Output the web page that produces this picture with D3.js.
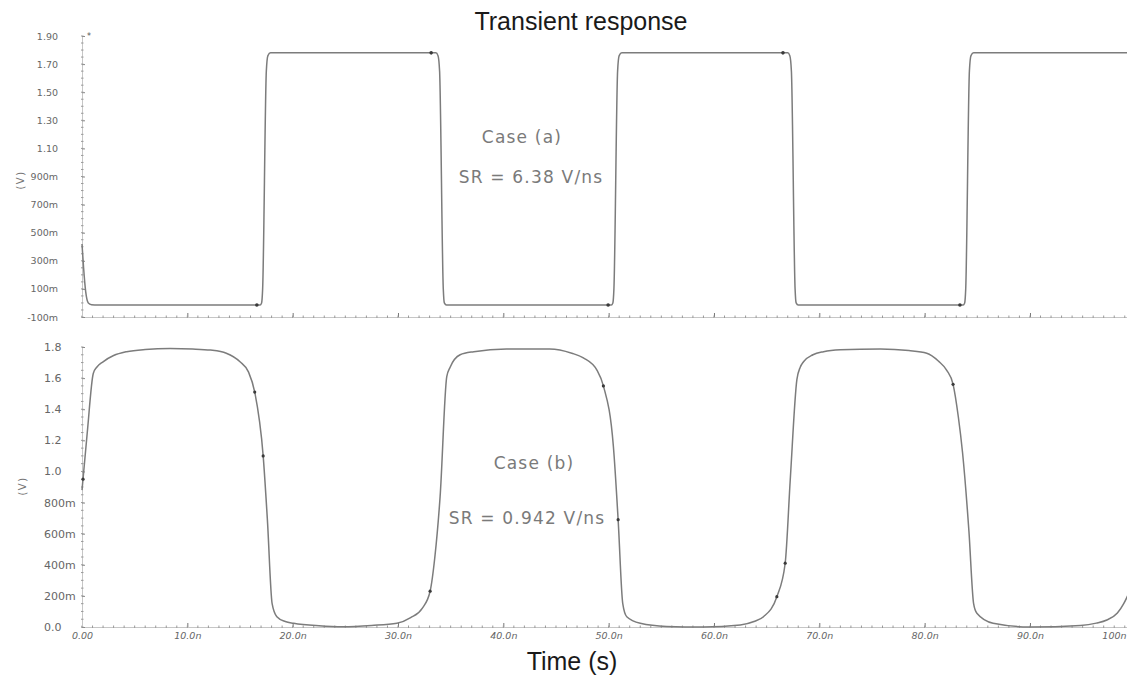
<!DOCTYPE html>
<html><head><meta charset="utf-8">
<script src="https://cdn.jsdelivr.net/npm/d3@7"></script>
<style>
html,body{margin:0;padding:0;background:#fff;}
svg{display:block;}
</style></head>
<body>
<svg id="chart" width="1127" height="677"></svg>
<script>
// ---------- data ----------
const chartTitle = "Transient response";
const xTitle = "Time (s)";
const yTitle = "(V)";

const xTicks = [0, 10, 20, 30, 40, 50, 60, 70, 80, 90, 100];           // ns
const xTickLabels = ["0.00", "10.0n", "20.0n", "30.0n", "40.0n", "50.0n", "60.0n", "70.0n", "80.0n", "90.0n", "100n"];

const topYTicks = [-0.1, 0.1, 0.3, 0.5, 0.7, 0.9, 1.1, 1.3, 1.5, 1.7, 1.9];
const topYTickLabels = ["-100m", "100m", "300m", "500m", "700m", "900m", "1.10", "1.30", "1.50", "1.70", "1.90"];

const botYTicks = [0, 0.2, 0.4, 0.6, 0.8, 1.0, 1.2, 1.4, 1.6, 1.8];
const botYTickLabels = ["0.0", "200m", "400m", "600m", "800m", "1.0", "1.2", "1.4", "1.6", "1.8"];

// Case (a): [time ns, volts]
const caseA = [
  [0, 0.42], [0.15, 0.25], [0.35, 0.08], [0.6, 0.0], [0.9, -0.012], [1.5, -0.015],
  [16.9, -0.015], [17.05, 0.0], [17.15, 0.1], [17.5, 1.65], [17.65, 1.76], [17.9, 1.78],
  [33.6, 1.78], [33.8, 1.76], [33.95, 1.65], [34.3, 0.1], [34.4, 0.0], [34.6, -0.015],
  [50.25, -0.015], [50.4, 0.0], [50.5, 0.1], [50.85, 1.65], [51.0, 1.76], [51.25, 1.78],
  [67.0, 1.78], [67.2, 1.76], [67.35, 1.65], [67.7, 0.1], [67.8, 0.0], [68.0, -0.015],
  [83.65, -0.015], [83.8, 0.0], [83.9, 0.1], [84.25, 1.65], [84.4, 1.76], [84.65, 1.78],
  [100, 1.78]
];

// Case (b): [time ns, volts]
const caseB = [
  [0, 0.88], [0.5, 1.25], [1.07, 1.63], [1.4, 1.67], [2.0, 1.705], [3.0, 1.745], [4.24, 1.77],
  [6.0, 1.784], [8.36, 1.79], [10.5, 1.787], [12.2, 1.78], [13.7, 1.76], [15.0, 1.705],
  [15.8, 1.64], [16.4, 1.51], [17.2, 1.1], [17.6, 0.69], [18.05, 0.15], [18.5, 0.066],
  [19.3, 0.035], [20.1, 0.024], [22.5, 0.008], [24.8, 0.002], [27.5, 0.01], [29.9, 0.024],
  [31.2, 0.06], [32.3, 0.12], [33.05, 0.23], [33.5, 0.45], [34.0, 0.84], [34.63, 1.61],
  [34.95, 1.67], [35.9, 1.75], [37.2, 1.77], [40.3, 1.787], [44.4, 1.787], [46.5, 1.76],
  [47.6, 1.73], [48.9, 1.65], [49.5, 1.55], [50.45, 1.16], [50.9, 0.69], [51.34, 0.15],
  [51.72, 0.066], [53.0, 0.024], [55.5, 0.004], [59.0, 0.0], [62.5, 0.013], [63.8, 0.035],
  [64.7, 0.066], [65.97, 0.195], [66.76, 0.41], [67.24, 0.945], [67.87, 1.59], [68.19, 1.67],
  [68.5, 1.705], [69.4, 1.75], [70.4, 1.77], [72.0, 1.782], [75.8, 1.787], [78.5, 1.777],
  [80.2, 1.76], [81.3, 1.71], [82.1, 1.65], [82.7, 1.56], [83.2, 1.35], [83.6, 1.12],
  [84.2, 0.62], [84.65, 0.15], [84.96, 0.088], [86.5, 0.024], [90.0, 0.0], [94.8, 0.01],
  [96.3, 0.025], [97.3, 0.045], [98.3, 0.09], [98.9, 0.15], [99.5, 0.24], [100, 0.36]
];

// measurement marks
const marksA = [[16.6, -0.015], [33.15, 1.78], [49.95, -0.015], [66.55, 1.78], [83.35, -0.015]];
const marksB = [[0.1, 0.95], [16.4, 1.51], [17.2, 1.1], [33.05, 0.23], [49.5, 1.55], [50.9, 0.69],
                [65.97, 0.195], [66.76, 0.41], [82.7, 1.56]];

const annotA = ["Case (a)", "SR = 6.38 V/ns"];
const annotB = ["Case (b)", "SR = 0.942 V/ns"];

// ---------- drawing ----------
const svg = d3.select("#chart");
const W = 1127, H = 677;
svg.append("rect").attr("width", W).attr("height", H).attr("fill", "#fff");

const x = d3.scaleLinear().domain([0, 100]).range([82, 1135.3]);
const yTop = d3.scaleLinear().domain([-0.1, 1.9]).range([317, 36]);
const yBot = d3.scaleLinear().domain([0, 1.8]).range([627, 347]);

const axisCol = "#c6c6c6", tickCol = "#9a9a9a", labCol = "#666", lineCol = "#7c7c7c";

function drawPanel(y, yTicks, yLabels, yMinorStep, showXLabels, yLabelMode) {
  const [y0, y1] = y.range();
  const g = svg.append("g");
  const xa = d3.axisBottom(x).tickValues(xTicks)
    .tickFormat((d, i) => showXLabels ? xTickLabels[i] : "")
    .tickSizeInner(-4).tickSizeOuter(0).tickPadding(5);
  const gx = g.append("g").attr("transform", `translate(0,${y0})`).call(xa);
  gx.select(".domain").attr("stroke", axisCol).attr("d", `M${x(0)},0.5H${W}`);
  gx.selectAll(".tick line").attr("stroke", "#777");
  gx.selectAll("text").attr("fill", labCol).attr("font-family", "DejaVu Sans")
    .attr("font-size", 9.5).attr("font-style", "italic");
  // keep the last (clipped in the reference) label inside the picture
  gx.selectAll(".tick text").filter(d => x(d) > W - 15)
    .attr("text-anchor", "end").attr("x", d => (W - 1) - x(d));
  g.append("g").selectAll("line").data(d3.range(0, 101, 1)).join("line")
    .attr("x1", d => x(d)).attr("x2", d => x(d))
    .attr("y1", y0 - 1.5).attr("y2", y0 + 1)
    .attr("stroke", tickCol).attr("stroke-width", 1);

  const ya = d3.axisLeft(y).tickValues(yTicks).tickFormat((d, i) => yLabels[i])
    .tickSizeInner(-3).tickSizeOuter(0).tickPadding(yLabelMode === "right" ? 24 : 38);
  const gy = g.append("g").attr("transform", `translate(${x(0)},0)`).call(ya);
  gy.select(".domain").attr("stroke", axisCol);
  gy.selectAll(".tick line").attr("stroke", "#888");
  const t = gy.selectAll("text").attr("fill", labCol).attr("font-family", "DejaVu Sans");
  if (yLabelMode === "right") {
    t.attr("font-size", 9.5).attr("text-anchor", "end");
  } else {
    t.attr("font-size", 11).attr("text-anchor", "start");
  }
  const dom = y.domain();
  g.append("g").selectAll("line").data(d3.range(dom[0], dom[1] + 1e-9, yMinorStep)).join("line")
    .attr("x1", x(0) - 1).attr("x2", x(0) + 1.5)
    .attr("y1", d => y(d)).attr("y2", d => y(d))
    .attr("stroke", tickCol).attr("stroke-width", 1);
}

drawPanel(yTop, topYTicks, topYTickLabels, 0.05, false, "right");
drawPanel(yBot, botYTicks, botYTickLabels, 0.05, true, "left");

svg.append("clipPath").attr("id", "clip").append("rect")
  .attr("x", 0).attr("y", 0).attr("width", W).attr("height", H);

const lineA = d3.line().x(d => x(d[0])).y(d => yTop(d[1])).curve(d3.curveMonotoneX);
const lineB = d3.line().x(d => x(d[0])).y(d => yBot(d[1])).curve(d3.curveMonotoneX);

svg.append("path").datum(caseA).attr("d", lineA).attr("fill", "none")
  .attr("stroke", lineCol).attr("stroke-width", 1.5).attr("clip-path", "url(#clip)");
svg.append("path").datum(caseB).attr("d", lineB).attr("fill", "none")
  .attr("stroke", lineCol).attr("stroke-width", 1.5).attr("clip-path", "url(#clip)");

svg.append("g").selectAll("circle").data(marksA).join("circle")
  .attr("cx", d => x(d[0])).attr("cy", d => yTop(d[1])).attr("r", 1.8).attr("fill", "#3a3a3a");
svg.append("g").selectAll("circle").data(marksB).join("circle")
  .attr("cx", d => x(d[0])).attr("cy", d => yBot(d[1])).attr("r", 1.6).attr("fill", "#3a3a3a");

svg.append("text").attr("x", x(0) + 5).attr("y", yTop(1.9) + 3).text("*")
  .attr("font-family", "DejaVu Sans").attr("font-size", 8).attr("fill", "#555");

function annot(lines, cx1, y1, cx2, y2) {
  [[lines[0], cx1, y1], [lines[1], cx2, y2]].forEach(([s, cx, cy]) => {
    svg.append("text").attr("x", cx).attr("y", cy).attr("text-anchor", "middle").text(s)
      .attr("font-family", "DejaVu Sans").attr("font-size", 17).attr("fill", "#7a7a7a")
      .attr("letter-spacing", 1.2);
  });
}
annot(annotA, 522, 143, 531, 183);
annot(annotB, 534, 469, 527, 524);

[[20, 180], [22, 486]].forEach(([cx, cy]) => {
  svg.append("text").attr("transform", `translate(${cx},${cy}) rotate(-90)`)
    .attr("text-anchor", "middle").attr("dy", "0.35em").text(yTitle)
    .attr("font-family", "DejaVu Sans").attr("font-size", 10).attr("fill", "#777")
    .attr("letter-spacing", 1.5);
});

svg.append("text").attr("x", 581).attr("y", 30).attr("text-anchor", "middle").text(chartTitle)
  .attr("font-family", "Liberation Sans, Arial, sans-serif").attr("font-size", 25).attr("fill", "#1a1a1a");
svg.append("text").attr("x", 572).attr("y", 670).attr("text-anchor", "middle").text(xTitle)
  .attr("font-family", "Liberation Sans, Arial, sans-serif").attr("font-size", 25).attr("fill", "#1a1a1a");
</script>
</body></html>
